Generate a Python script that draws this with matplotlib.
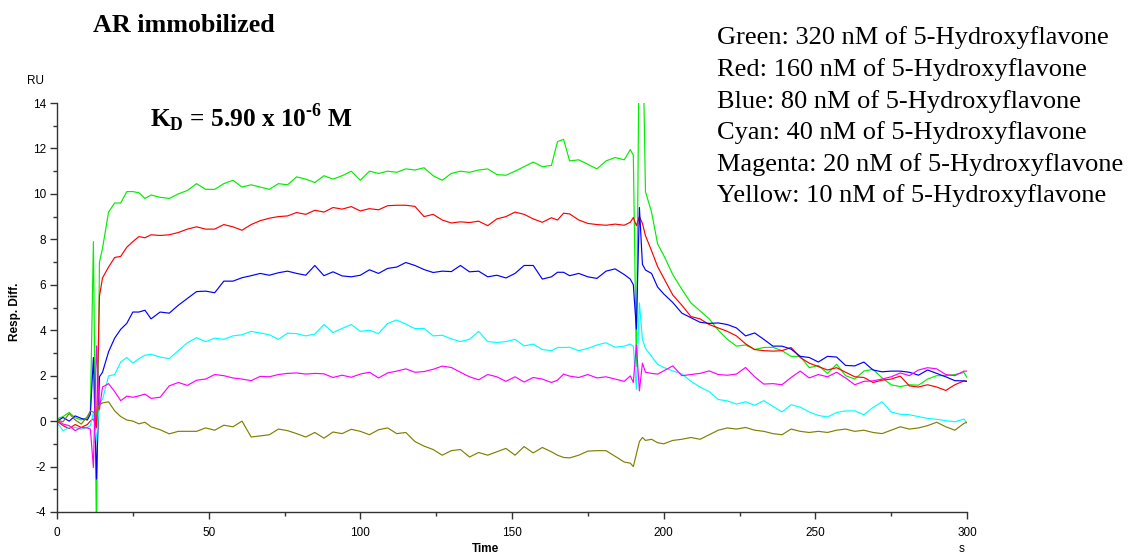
import matplotlib
matplotlib.use("Agg")
import matplotlib.pyplot as plt
from matplotlib.ticker import MultipleLocator

# sampling times (s)
time_s = [0, 2, 4, 6, 8, 10,
          11, 12, 13, 14, 15,
          17, 19, 21, 23, 25, 27, 29,
          31, 34, 37, 40, 43, 46, 49, 52, 55, 58,
          61, 64, 67, 70, 73, 76, 79, 82, 85, 88,
          91, 94, 97, 100, 103, 106, 109, 112, 115, 118,
          121, 124, 127, 130, 133, 136, 139, 142, 145, 148,
          151, 154, 157, 160, 163,
          165, 167, 169, 172, 175, 178, 181, 184, 187, 189,
          190, 191, 192, 193, 194,
          196, 198, 200,
          203, 206, 209, 212, 215, 218, 221, 224, 227, 230,
          233, 236, 239, 242, 245, 248, 251, 254, 257, 260,
          263, 266, 269, 272, 275, 278, 281, 284, 287, 290,
          293, 296, 299, 300]

green_320 = [0.1, 0.2, 0.38, 0.15, 0.05, 0.15,
             0.4, 7.9, -5.0, 7.0, 7.6,
             9.2, 9.6, 9.6, 10.1, 10.1, 10.05, 9.8,
             9.95, 9.85, 9.8, 10.0, 10.15, 10.45, 10.2, 10.2, 10.45, 10.6,
             10.3, 10.4, 10.3, 10.2, 10.45, 10.4, 10.75, 10.65, 10.5, 10.8,
             10.65, 10.8, 11.0, 10.6, 11.0, 10.9, 11.0, 10.95, 11.1, 11.05,
             11.15, 10.8, 10.6, 10.9, 11.0, 10.95, 11.05, 11.1, 10.85, 10.82,
             11.0, 11.2, 11.4, 11.2, 11.25,
             12.3, 12.4, 11.45, 11.5, 11.3, 11.1, 11.45, 11.6, 11.5, 11.95,
             11.7, 2.4, 18.0, 18.0, 10.1,
             9.2, 7.8, 7.3,
             6.45, 5.8, 5.2, 4.85, 4.5, 4.0, 3.6, 3.3, 3.35, 3.15,
             3.24, 3.25, 3.1, 2.85, 2.85, 2.35, 2.45, 2.1, 2.5, 2.0,
             1.85, 2.2, 2.28, 1.9, 1.6, 1.52, 1.6, 1.58, 1.85, 2.0,
             2.0, 2.05, 2.14, 1.92]

red_160 = [0.0, -0.2, -0.33, -0.15, -0.28, -0.15,
           0.0, 0.1, -0.3, 5.5, 6.3,
           6.78, 7.2, 7.25, 7.65, 7.9, 8.12, 8.07,
           8.2, 8.17, 8.2, 8.3, 8.45, 8.55, 8.45, 8.45, 8.65, 8.55,
           8.4, 8.65, 8.82, 8.93, 9.0, 9.03, 9.18, 9.1, 9.28, 9.2,
           9.4, 9.33, 9.44, 9.25, 9.35, 9.3, 9.48, 9.5, 9.5, 9.45,
           9.0, 9.1, 8.85, 8.72, 8.77, 8.74, 8.8, 8.6, 8.9, 9.0,
           9.2, 9.1, 8.9, 8.75, 8.95,
           8.85, 9.15, 9.12, 8.85, 8.7, 8.65, 8.62, 8.67, 8.62, 8.75,
           8.96, 8.6, 9.0, 8.7, 8.16,
           7.5, 6.8, 6.3,
           5.55, 5.1, 4.6, 4.5, 4.25, 4.1, 3.95, 3.75, 3.4, 3.15,
           3.1, 3.08, 3.1, 3.24, 2.8, 2.55, 2.4, 2.25, 2.35, 2.15,
           1.95, 1.92, 1.7, 1.8, 1.85, 1.98, 1.55, 1.5, 1.6, 1.5,
           1.35, 1.6, 1.77, 1.75]

blue_80 = [0.0, 0.16, 0.0, 0.23, 0.12, 0.05,
           0.3, 2.8, -2.55, 1.95, 2.15,
           3.05, 3.65, 4.04, 4.3, 4.8, 4.8, 4.88,
           4.5, 4.8, 4.75, 5.1, 5.4, 5.7, 5.72, 5.65, 6.16, 6.16,
           6.31, 6.4, 6.5, 6.42, 6.53, 6.6, 6.5, 6.42, 6.85, 6.4,
           6.57, 6.39, 6.35, 6.42, 6.66, 6.5, 6.72, 6.78, 6.98, 6.85,
           6.67, 6.54, 6.6, 6.58, 6.85, 6.57, 6.6, 6.35, 6.42, 6.3,
           6.5, 6.85, 6.85, 6.25, 6.35,
           6.55, 6.55, 6.4, 6.5, 6.35, 6.28, 6.6, 6.7, 6.45, 6.25,
           6.0, 4.05, 9.4, 6.9, 6.65,
           6.5, 5.9, 5.6,
           5.22, 4.75, 4.55, 4.35, 4.3, 4.32, 4.25, 4.1, 3.75, 3.88,
           3.6, 3.3, 3.3, 3.17, 2.85, 2.8, 2.6, 2.85, 2.82, 2.45,
           2.43, 2.6, 2.25, 2.17, 2.2, 2.2, 2.15, 2.02, 2.25, 2.1,
           1.95, 1.78, 1.77, 1.75]

cyan_40 = [-0.06, -0.42, -0.28, -0.28, -0.35, -0.28,
           -0.2, 0.38, -0.9, 0.85, 0.95,
           1.99, 2.05, 2.6, 2.8, 2.55, 2.75, 2.9,
           2.94, 2.82, 2.75, 3.1, 3.45, 3.67, 3.5, 3.65, 3.6, 3.75,
           3.8, 3.95, 3.88, 3.8, 3.6, 3.87, 3.85, 3.75, 3.83, 4.25,
           3.9, 4.08, 4.25, 3.95, 4.0, 3.85, 4.3, 4.45, 4.27, 4.07,
           4.08, 3.75, 3.78, 3.62, 3.5, 3.6, 3.95, 3.5, 3.46, 3.5,
           3.6, 3.31, 3.39, 3.15, 3.1,
           3.24, 3.24, 3.25, 3.1, 3.2, 3.35, 3.45, 3.25, 3.3, 3.39,
           3.3, 1.4, 5.2, 3.6, 3.2,
           2.85, 2.5, 2.36,
           2.21, 2.08, 1.75, 1.5, 1.3, 0.95, 0.89, 0.75, 0.85, 0.7,
           0.9, 0.65, 0.4, 0.72, 0.62, 0.4, 0.25, 0.18, 0.38, 0.45,
           0.45, 0.28, 0.6, 0.85, 0.4, 0.3, 0.28, 0.2, 0.12, 0.08,
           0.02, -0.03, 0.09, -0.09]

magenta_20 = [0.06, -0.13, -0.2, -0.42, -0.28, -0.3,
              -0.35, -2.04, 3.31, 0.5, 1.5,
              1.65, 1.3, 0.9, 1.1, 1.05, 1.11, 1.19,
              1.0, 1.05, 1.55, 1.7, 1.57, 1.8, 1.85, 2.05, 2.0, 1.9,
              1.85, 1.78, 1.97, 1.95, 2.05, 2.1, 2.12, 2.07, 2.1, 2.08,
              1.92, 2.02, 1.93, 2.07, 2.15, 1.9, 2.12, 2.2, 2.3, 2.15,
              2.18, 2.28, 2.42, 2.36, 2.15, 1.95, 1.82, 2.05, 1.95, 1.75,
              1.95, 1.72, 1.92, 1.85, 1.7,
              1.8, 2.07, 1.98, 1.92, 2.05, 1.9, 1.95, 1.85, 1.75, 1.99,
              1.7, 3.35, 1.33, 2.55, 2.15,
              2.1, 2.07, 2.21,
              2.43, 2.0, 2.05, 2.1, 2.21, 2.05, 2.02, 2.07, 2.36, 1.95,
              1.63, 1.65, 1.6, 1.92, 2.2, 1.9, 2.05, 1.95, 2.15, 1.9,
              1.6, 1.75, 1.77, 1.85, 1.95, 2.12, 2.0, 2.25, 2.35, 2.3,
              2.05, 2.0, 2.2, 2.2]

yellow_10 = [0.06, -0.03, 0.33, 0.05, -0.13, 0.2,
             0.45, 0.4, 0.3, 0.72, 0.8,
             0.85, 0.45, 0.2, 0.05, 0.0, -0.12, -0.05,
             -0.25, -0.38, -0.56, -0.45, -0.45, -0.45, -0.3, -0.4, -0.18, -0.25,
             0.0, -0.7, -0.65, -0.6, -0.35, -0.42, -0.55, -0.7, -0.5, -0.75,
             -0.48, -0.55, -0.36, -0.45, -0.6, -0.38, -0.3, -0.55, -0.5, -0.9,
             -1.1, -1.25, -1.5, -1.3, -1.25, -1.58, -1.38, -1.5, -1.35, -1.2,
             -1.5, -1.12, -1.4, -1.16, -1.35,
             -1.5, -1.6, -1.62, -1.5, -1.32, -1.3, -1.3, -1.55, -1.8, -1.85,
             -2.0, -1.45, -0.9, -0.72, -0.85,
             -0.8, -0.95, -1.0,
             -0.85, -0.8, -0.72, -0.8, -0.6, -0.4, -0.3, -0.35, -0.28, -0.4,
             -0.45, -0.55, -0.6, -0.35, -0.45, -0.5, -0.45, -0.5, -0.4, -0.35,
             -0.45, -0.4, -0.5, -0.55, -0.4, -0.25, -0.35, -0.3, -0.2, -0.05,
             -0.25, -0.4, -0.1, -0.05]

series = [green_320, red_160, blue_80, cyan_40, magenta_20, yellow_10]
colors = ["#00ee00", "#ff0000", "#0000ff", "#00ffff", "#ff00ff", "#808000"]

legend_lines = ["Green: 320 nM of 5-Hydroxyflavone",
                "Red: 160 nM of 5-Hydroxyflavone",
                "Blue: 80 nM of 5-Hydroxyflavone",
                "Cyan: 40 nM of 5-Hydroxyflavone",
                "Magenta: 20 nM of 5-Hydroxyflavone",
                "Yellow: 10 nM of 5-Hydroxyflavone"]

W, H = 1128, 557
plt.rcParams['axes.unicode_minus'] = False
plt.rcParams['mathtext.fontset'] = 'custom'
plt.rcParams['mathtext.rm'] = 'Liberation Serif:bold'
plt.rcParams['mathtext.bf'] = 'Liberation Serif:bold'

fig = plt.figure(figsize=(W / 100, H / 100), dpi=100)
ax = fig.add_axes([57 / W, 1 - 512 / H, (967 - 57) / W, (512 - 103) / H])

for vals, col in zip(series, colors):
    ax.plot(time_s, vals, color=col, lw=0.85)

ax.set_xlim(0, 300)
ax.set_ylim(-4, 14)
ax.spines['top'].set_visible(False)
ax.spines['right'].set_visible(False)
for s in ['left', 'bottom']:
    ax.spines[s].set_color('#333333')
    ax.spines[s].set_linewidth(1.0)
ax.xaxis.set_major_locator(MultipleLocator(50))
ax.xaxis.set_minor_locator(MultipleLocator(25))
ax.yaxis.set_major_locator(MultipleLocator(2))
ax.yaxis.set_minor_locator(MultipleLocator(1))
ax.tick_params(which='major', direction='out', length=5, width=1, color='#333333',
               labelsize=8.5, labelfontfamily='Liberation Sans', pad=3)
ax.tick_params(which='minor', direction='out', length=3, width=1, color='#333333')
ax.tick_params(axis='x', pad=6)

sans = 'Liberation Sans'
serif = 'Liberation Serif'
fig.text(485 / W, 1 - 549 / H, "Time", fontsize=8.5, fontweight='bold',
         family=sans, ha='center', va='center')
fig.text(962 / W, 1 - 549 / H, "s", fontsize=8.5, family=sans, ha='center', va='center')
fig.text(35 / W, 1 - 81 / H, "RU", fontsize=8.5, family=sans, ha='center', va='center')
fig.text(15 / W, 1 - 312 / H, "Resp. Diff.", fontsize=8.5, fontweight='bold',
         family=sans, rotation=90, ha='center', va='center')

fig.text(93 / W, 1 - 25 / H, "AR immobilized", fontsize=18.7, fontweight='bold',
         family=serif, ha='left', va='center')
fig.text(150 / W, 1 - 118 / H, r"$\mathbf{K_D}$ = 5.90 x 10$^{\text{-6}}$ M",
         fontsize=18.3, fontweight='bold', family=serif, ha='left', va='center')

for i, line in enumerate(legend_lines):
    fig.text(717 / W, 1 - (38 + 31.6 * i) / H, line, fontsize=19,
             family=serif, ha='left', va='center')

fig.savefig("out.png", dpi=100)
